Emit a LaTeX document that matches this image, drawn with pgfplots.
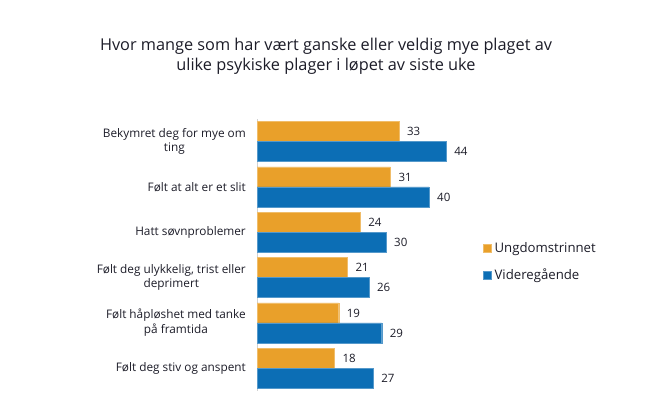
\documentclass[border=0pt]{standalone}
\usepackage{pgfplots}
\pgfplotsset{compat=1.18}
\usepackage{pgfplotstable}
\usepackage{fontspec}
\setmainfont{Open Sans}
\definecolor{cU}{HTML}{E9A02A}
\definecolor{cV}{HTML}{0C6EB5}
\definecolor{txt}{HTML}{1C1C28}
\pgfplotstableread{
pos U V
5 33 44
4 31 40
3 24 30
2 21 26
1 19 29
0 18 27
}\data
\newcommand{\two}[2]{\begin{tabular}{@{}c@{}}#1\\[-0.5pt]#2\end{tabular}}
\begin{document}
\begin{tikzpicture}[x=1pt,y=1pt]
\useasboundingbox (0,0) rectangle (656,395);
\node[anchor=north, align=center, inner sep=0pt, text=txt, font=\fontsize{16.3}{20}\selectfont] at (326,357)
  {Hvor mange som har vært ganske eller veldig mye plaget av\\ulike psykiske plager i løpet av siste uke};
\begin{axis}[
  at={(257pt,4pt)}, anchor=south west,
  scale only axis, width=215pt, height=272pt,
  xmin=0, xmax=50, ymin=-0.5, ymax=5.5,
  xbar, bar width=20pt,
  axis x line=none, axis y line*=left,
  y axis line style={draw=black!18, line width=0.8pt},
  ytick={0,...,5}, major tick length=0pt,
  yticklabels={{Følt deg stiv og anspent},{\two{Følt håpløshet med tanke}{på framtida}},{\two{Følt deg ulykkelig, trist eller}{deprimert}},{Hatt søvnproblemer},{Følt at alt er et slit},{\two{Bekymret deg for mye om}{ting}}},
  yticklabel style={anchor=east, inner sep=0pt, xshift=-11pt, text=txt, font=\fontsize{11.8}{15}\selectfont},
  point meta=x, nodes near coords,
  nodes near coords style={anchor=west, inner sep=0pt, xshift=8pt, text=txt, font=\fontsize{11.5}{14}\selectfont},
  /pgf/number format/assume math mode=true,
  clip=false,
  legend style={at={(1.051,0.555)}, anchor=north west, draw=none, fill=none, inner sep=0pt, row sep=11pt, font=\fontsize{13.2}{15}\selectfont, text=txt, nodes={inner xsep=3pt}},
  legend cell align=left,
  legend image code/.code={\fill[#1] (0pt,-4pt) rectangle (8pt,4pt);},
]
\addplot[fill=cU, draw=cU!70!white, line width=0.4pt, bar shift=10pt] table[x=U, y=pos] {\data};
\addplot[fill=cV, draw=cV!70!white, line width=0.4pt, bar shift=-10pt] table[x=V, y=pos] {\data};
\legend{Ungdomstrinnet, Videregående}
\end{axis}
\end{tikzpicture}
\end{document}
